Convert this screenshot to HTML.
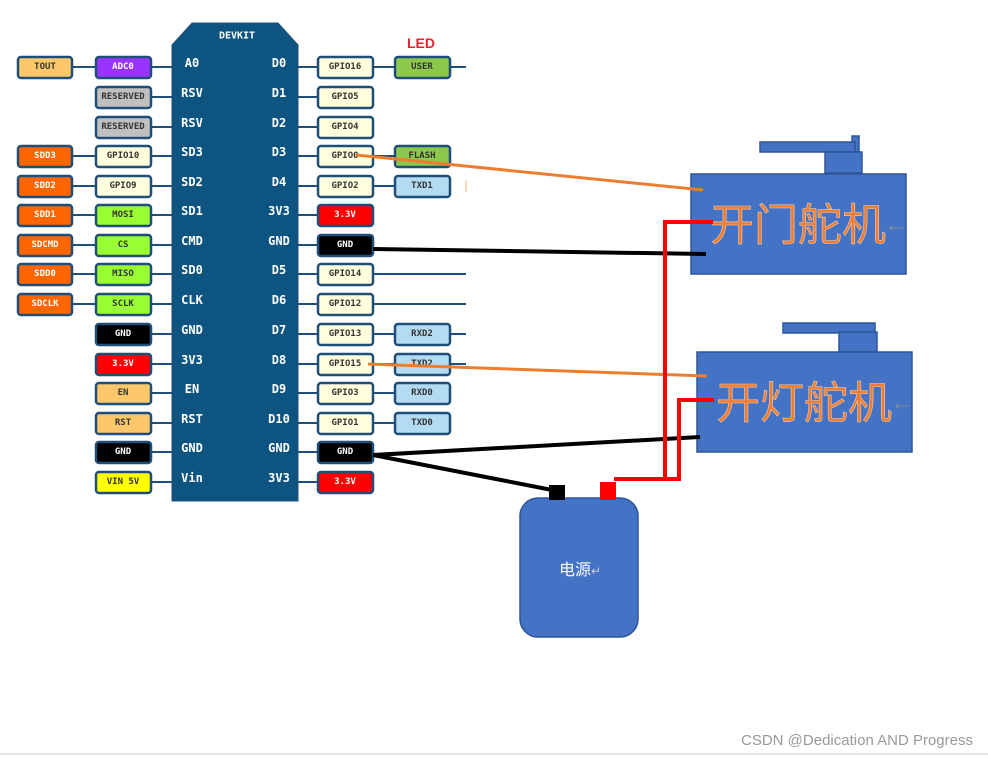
<!DOCTYPE html>
<html><head><meta charset="utf-8"><style>
body{margin:0;background:#fff;}
svg{display:block;font-family:"Liberation Sans","DejaVu Sans",sans-serif;}
.b{stroke:#1f4e79;stroke-width:2.5;}
.t{font-family:"DejaVu Sans Mono","Liberation Mono",monospace;font-size:9px;font-weight:bold;text-anchor:middle;dominant-baseline:central;}
.p{fill:#fff;font-size:12px;font-weight:bold;text-anchor:middle;dominant-baseline:central;font-family:"DejaVu Sans Mono",monospace;}
</style></head><body>
<svg width="988" height="758" viewBox="0 0 988 758">
<g stroke="#1f4e79" stroke-width="2">
<line x1="72" y1="67" x2="96" y2="67"/>
<line x1="72" y1="156" x2="96" y2="156"/><line x1="72" y1="186" x2="96" y2="186"/><line x1="72" y1="215" x2="96" y2="215"/><line x1="72" y1="245" x2="96" y2="245"/><line x1="72" y1="274" x2="96" y2="274"/><line x1="72" y1="304" x2="96" y2="304"/>
<line x1="151" y1="67" x2="172" y2="67"/><line x1="151" y1="97" x2="172" y2="97"/><line x1="151" y1="127" x2="172" y2="127"/><line x1="151" y1="156" x2="172" y2="156"/><line x1="151" y1="186" x2="172" y2="186"/><line x1="151" y1="215" x2="172" y2="215"/><line x1="151" y1="245" x2="172" y2="245"/><line x1="151" y1="274" x2="172" y2="274"/><line x1="151" y1="304" x2="172" y2="304"/><line x1="151" y1="334" x2="172" y2="334"/><line x1="151" y1="364" x2="172" y2="364"/><line x1="151" y1="393" x2="172" y2="393"/><line x1="151" y1="423" x2="172" y2="423"/><line x1="151" y1="452" x2="172" y2="452"/><line x1="151" y1="482" x2="172" y2="482"/>
<line x1="298" y1="67" x2="318" y2="67"/><line x1="298" y1="97" x2="318" y2="97"/><line x1="298" y1="127" x2="318" y2="127"/><line x1="298" y1="156" x2="318" y2="156"/><line x1="298" y1="186" x2="318" y2="186"/><line x1="298" y1="215" x2="318" y2="215"/><line x1="298" y1="245" x2="318" y2="245"/><line x1="298" y1="274" x2="318" y2="274"/><line x1="298" y1="304" x2="318" y2="304"/><line x1="298" y1="334" x2="318" y2="334"/><line x1="298" y1="364" x2="318" y2="364"/><line x1="298" y1="393" x2="318" y2="393"/><line x1="298" y1="423" x2="318" y2="423"/><line x1="298" y1="452" x2="318" y2="452"/><line x1="298" y1="482" x2="318" y2="482"/>
<line x1="373" y1="67" x2="466" y2="67"/><line x1="373" y1="156" x2="395" y2="156"/><line x1="373" y1="186" x2="395" y2="186"/>
<line x1="373" y1="274" x2="466" y2="274"/><line x1="373" y1="304" x2="466" y2="304"/><line x1="373" y1="334" x2="466" y2="334"/><line x1="373" y1="364" x2="466" y2="364"/><line x1="373" y1="393" x2="395" y2="393"/><line x1="373" y1="423" x2="395" y2="423"/>
</g>
<polygon points="172,45 192,23 278,23 298,45 298,501 172,501" fill="#0d5480" stroke="#1f4e79"/>
<text x="237" y="36" class="p" style="font-size:10px">DEVKIT</text>
<g class="p">
<text x="192" y="63">A0</text><text x="192" y="93">RSV</text><text x="192" y="123">RSV</text><text x="192" y="152">SD3</text><text x="192" y="182">SD2</text><text x="192" y="211">SD1</text><text x="192" y="241">CMD</text><text x="192" y="270">SD0</text><text x="192" y="300">CLK</text><text x="192" y="330">GND</text><text x="192" y="360">3V3</text><text x="192" y="389">EN</text><text x="192" y="419">RST</text><text x="192" y="448">GND</text><text x="192" y="478">Vin</text>
<text x="279" y="63">D0</text><text x="279" y="93">D1</text><text x="279" y="123">D2</text><text x="279" y="152">D3</text><text x="279" y="182">D4</text><text x="279" y="211">3V3</text><text x="279" y="241">GND</text><text x="279" y="270">D5</text><text x="279" y="300">D6</text><text x="279" y="330">D7</text><text x="279" y="360">D8</text><text x="279" y="389">D9</text><text x="279" y="419">D10</text><text x="279" y="448">GND</text><text x="279" y="478">3V3</text>
</g>
<g class="b">
<rect x="18" y="57" width="54" height="21" rx="3" fill="#fcc86a"/>
<rect x="18" y="146" width="54" height="21" rx="3" fill="#ff6600"/><rect x="18" y="176" width="54" height="21" rx="3" fill="#ff6600"/><rect x="18" y="205" width="54" height="21" rx="3" fill="#ff6600"/><rect x="18" y="235" width="54" height="21" rx="3" fill="#ff6600"/><rect x="18" y="264" width="54" height="21" rx="3" fill="#ff6600"/><rect x="18" y="294" width="54" height="21" rx="3" fill="#ff6600"/>
<rect x="96" y="57" width="55" height="21" rx="3" fill="#9933ff"/><rect x="96" y="87" width="55" height="21" rx="3" fill="#c0c0c0"/><rect x="96" y="117" width="55" height="21" rx="3" fill="#c0c0c0"/><rect x="96" y="146" width="55" height="21" rx="3" fill="#ffffdd"/><rect x="96" y="176" width="55" height="21" rx="3" fill="#ffffdd"/><rect x="96" y="205" width="55" height="21" rx="3" fill="#99ff33"/><rect x="96" y="235" width="55" height="21" rx="3" fill="#99ff33"/><rect x="96" y="264" width="55" height="21" rx="3" fill="#99ff33"/><rect x="96" y="294" width="55" height="21" rx="3" fill="#99ff33"/><rect x="96" y="324" width="55" height="21" rx="3" fill="#000"/><rect x="96" y="354" width="55" height="21" rx="3" fill="#ff0000"/><rect x="96" y="383" width="55" height="21" rx="3" fill="#fcc86a"/><rect x="96" y="413" width="55" height="21" rx="3" fill="#fcc86a"/><rect x="96" y="442" width="55" height="21" rx="3" fill="#000"/><rect x="96" y="472" width="55" height="21" rx="3" fill="#ffff00"/>
<rect x="318" y="57" width="55" height="21" rx="3" fill="#ffffdd"/><rect x="318" y="87" width="55" height="21" rx="3" fill="#ffffdd"/><rect x="318" y="117" width="55" height="21" rx="3" fill="#ffffdd"/><rect x="318" y="146" width="55" height="21" rx="3" fill="#ffffdd"/><rect x="318" y="176" width="55" height="21" rx="3" fill="#ffffdd"/><rect x="318" y="205" width="55" height="21" rx="3" fill="#ff0000"/><rect x="318" y="235" width="55" height="21" rx="3" fill="#000"/><rect x="318" y="264" width="55" height="21" rx="3" fill="#ffffdd"/><rect x="318" y="294" width="55" height="21" rx="3" fill="#ffffdd"/><rect x="318" y="324" width="55" height="21" rx="3" fill="#ffffdd"/><rect x="318" y="354" width="55" height="21" rx="3" fill="#ffffdd"/><rect x="318" y="383" width="55" height="21" rx="3" fill="#ffffdd"/><rect x="318" y="413" width="55" height="21" rx="3" fill="#ffffdd"/><rect x="318" y="442" width="55" height="21" rx="3" fill="#000"/><rect x="318" y="472" width="55" height="21" rx="3" fill="#ff0000"/>
<rect x="395" y="57" width="55" height="21" rx="3" fill="#8cc84b"/><rect x="395" y="146" width="55" height="21" rx="3" fill="#8cc84b"/><rect x="395" y="176" width="55" height="21" rx="3" fill="#b3dcf2"/><rect x="395" y="324" width="55" height="21" rx="3" fill="#b3dcf2"/><rect x="395" y="354" width="55" height="21" rx="3" fill="#b3dcf2"/><rect x="395" y="383" width="55" height="21" rx="3" fill="#b3dcf2"/><rect x="395" y="413" width="55" height="21" rx="3" fill="#b3dcf2"/>
</g>
<g class="t">
<text x="45" y="67" fill="#333">TOUT</text><text x="45" y="156" fill="#fff">SDD3</text><text x="45" y="186" fill="#fff">SDD2</text><text x="45" y="215" fill="#fff">SDD1</text><text x="45" y="245" fill="#fff">SDCMD</text><text x="45" y="274" fill="#fff">SDD0</text><text x="45" y="304" fill="#fff">SDCLK</text>
<text x="123" y="67" fill="#fff">ADC0</text><text x="123" y="97" fill="#333">RESERVED</text><text x="123" y="127" fill="#333">RESERVED</text><text x="123" y="156" fill="#333">GPIO10</text><text x="123" y="186" fill="#333">GPIO9</text><text x="123" y="215" fill="#333">MOSI</text><text x="123" y="245" fill="#333">CS</text><text x="123" y="274" fill="#333">MISO</text><text x="123" y="304" fill="#333">SCLK</text><text x="123" y="334" fill="#fff">GND</text><text x="123" y="364" fill="#fff">3.3V</text><text x="123" y="393" fill="#333">EN</text><text x="123" y="423" fill="#333">RST</text><text x="123" y="452" fill="#fff">GND</text><text x="123" y="482" fill="#333">VIN 5V</text>
<text x="345" y="67" fill="#333">GPIO16</text><text x="345" y="97" fill="#333">GPIO5</text><text x="345" y="127" fill="#333">GPIO4</text><text x="345" y="156" fill="#333">GPIO0</text><text x="345" y="186" fill="#333">GPIO2</text><text x="345" y="215" fill="#fff">3.3V</text><text x="345" y="245" fill="#fff">GND</text><text x="345" y="274" fill="#333">GPIO14</text><text x="345" y="304" fill="#333">GPIO12</text><text x="345" y="334" fill="#333">GPIO13</text><text x="345" y="364" fill="#333">GPIO15</text><text x="345" y="393" fill="#333">GPIO3</text><text x="345" y="423" fill="#333">GPIO1</text><text x="345" y="452" fill="#fff">GND</text><text x="345" y="482" fill="#fff">3.3V</text>
<text x="422" y="67" fill="#333">USER</text><text x="422" y="156" fill="#333">FLASH</text><text x="422" y="186" fill="#333">TXD1</text><text x="422" y="334" fill="#333">RXD2</text><text x="422" y="364" fill="#333">TXD2</text><text x="422" y="393" fill="#333">RXD0</text><text x="422" y="423" fill="#333">TXD0</text>
</g>
<text x="421" y="48" fill="#e8222a" font-size="14" font-weight="bold" text-anchor="middle">LED</text>
<line x1="466" y1="180" x2="466" y2="192" stroke="#f4b183" stroke-width="1"/>
<g fill="#4472c4" stroke="#2f5597" stroke-width="1.5">
<rect x="852" y="136" width="7" height="16"/><rect x="760" y="142" width="95" height="10"/><rect x="825" y="152" width="37" height="21"/>
<rect x="691" y="174" width="215" height="100"/>
<rect x="783" y="323" width="92" height="10"/><rect x="839" y="332" width="38" height="20"/>
<rect x="697" y="352" width="215" height="100"/>
<rect x="520" y="498" width="118" height="139" rx="18"/>
</g>
<g font-family="'Noto Sans CJK SC',sans-serif" font-size="44" fill="#ed7d31" stroke="#f8cbad" stroke-width="0.6">
<text x="710" y="240">开门舵机</text><text x="716" y="418">开灯舵机</text>
</g>
<text x="884" y="232" fill="#7f8c99" font-size="24">←</text>
<text x="890" y="410" fill="#7f8c99" font-size="24">←</text>
<text x="580" y="575" fill="#fff" font-size="16" text-anchor="middle" font-family="'Noto Sans CJK SC',sans-serif">电源<tspan fill="#ccd" font-size="12">↵</tspan></text>
<g fill="none" stroke-width="4">
<line x1="356" y1="155" x2="703" y2="190" stroke="#ed7d31" stroke-width="3"/>
<line x1="368" y1="364" x2="707" y2="376" stroke="#ed7d31" stroke-width="3"/>
<line x1="373" y1="249" x2="706" y2="254" stroke="#000"/>
<line x1="373" y1="455" x2="700" y2="437" stroke="#000"/>
<line x1="373" y1="455" x2="552" y2="490" stroke="#000"/>
<polyline points="614,479 665,479 665,222 713,222" stroke="#ff0000"/>
<polyline points="640,479 679,479 679,400 714,400" stroke="#ff0000"/>
</g>
<rect x="549" y="485" width="16" height="15" fill="#000"/>
<rect x="600" y="482" width="16" height="18" fill="#ff0000"/>
<line x1="0" y1="754" x2="988" y2="754" stroke="#ccc"/>
<text x="973" y="745" fill="#999" font-size="15" text-anchor="end">CSDN @Dedication AND Progress</text>
</svg>
</body></html>
